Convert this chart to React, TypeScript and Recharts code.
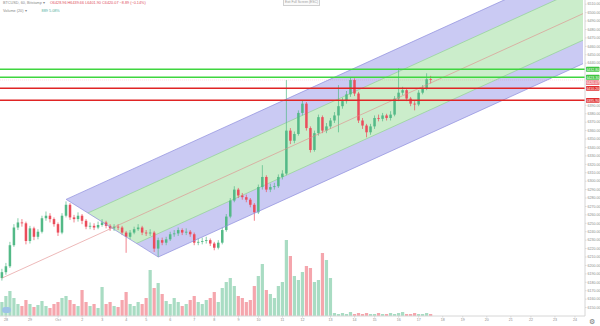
import React from 'react';
import { ComposedChart, Bar, Area, XAxis, YAxis, ReferenceLine } from 'recharts';

// hourly candles
const FIRST_OPEN = 6185;
const CLOSE = [
  6192, 6199, 6224, 6245, 6251, 6250, 6229, 6244, 6234, 6240,
  6256, 6259, 6255, 6249, 6239, 6259, 6272, 6257, 6255, 6259,
  6253, 6246, 6247, 6245, 6248, 6251, 6247, 6244, 6246, 6245,
  6239, 6234, 6239, 6243, 6245, 6239, 6238, 6239, 6220, 6230,
  6227, 6231, 6237, 6238, 6242, 6239, 6240, 6237, 6227, 6228,
  6229, 6230, 6226, 6221, 6227, 6242, 6258, 6277, 6290, 6283,
  6281, 6278, 6272, 6263, 6293, 6305, 6290, 6293, 6294, 6305,
  6309, 6360, 6348, 6356, 6381, 6392, 6363, 6337, 6357, 6376,
  6360, 6365, 6372, 6378, 6389, 6395, 6403, 6420, 6404, 6372,
  6366, 6358, 6365, 6375, 6374, 6378, 6375, 6379, 6398, 6405,
  6408, 6398, 6392, 6391, 6405, 6410, 6421, 6420.07,
];
const HIGH = [
  6196, 6203, 6228, 6249, 6256, 6255, 6252, 6247, 6246, 6243,
  6259, 6264, 6262, 6257, 6251, 6262, 6276, 6274, 6260, 6263,
  6261, 6255, 6251, 6250, 6252, 6255, 6253, 6249, 6249, 6249,
  6247, 6241, 6242, 6246, 6249, 6247, 6242, 6243, 6241, 6233,
  6233, 6234, 6240, 6242, 6245, 6244, 6244, 6242, 6239, 6232,
  6233, 6234, 6232, 6228, 6230, 6245, 6261, 6280, 6294, 6292,
  6286, 6284, 6280, 6274, 6296, 6319, 6307, 6297, 6298, 6308,
  6313, 6420, 6363, 6359, 6384, 6396, 6394, 6365, 6360, 6379,
  6378, 6369, 6375, 6382, 6414, 6399, 6407, 6423, 6422, 6406,
  6375, 6368, 6368, 6378, 6379, 6381, 6380, 6383, 6401, 6434,
  6412, 6410, 6400, 6395, 6408, 6414, 6428, 6425,
];
const LOW = [
  6182, 6189, 6197, 6222, 6242, 6246, 6225, 6226, 6230, 6231,
  6238, 6253, 6251, 6246, 6235, 6237, 6257, 6254, 6251, 6252,
  6249, 6243, 6243, 6242, 6243, 6246, 6244, 6241, 6241, 6242,
  6236, 6215, 6231, 6237, 6241, 6236, 6235, 6235, 6216, 6210,
  6224, 6224, 6229, 6234, 6235, 6236, 6236, 6234, 6224, 6224,
  6225, 6226, 6223, 6218, 6219, 6225, 6240, 6256, 6275, 6280,
  6278, 6275, 6269, 6253, 6261, 6290, 6287, 6287, 6290, 6292,
  6302, 6307, 6344, 6345, 6354, 6378, 6360, 6334, 6335, 6354,
  6357, 6357, 6362, 6369, 6358, 6386, 6392, 6400, 6401, 6369,
  6362, 6352, 6355, 6362, 6371, 6371, 6372, 6372, 6377, 6395,
  6402, 6395, 6389, 6384, 6389, 6403, 6408, 6416,
];
const VOLUME = [
  140, 200, 250, 180, 120, 100, 160, 120, 90, 110,
  150, 100, 80, 120, 140, 180, 200, 160, 120, 100,
  260, 140, 100, 120, 80, 290, 120, 140, 100, 90,
  160, 240, 120, 100, 140, 120, 180, 460, 280, 330,
  220, 150, 120, 180, 140, 100, 120, 160, 200, 140,
  120, 160, 180, 240, 140, 280, 340, 380, 300, 200,
  180, 140, 160, 300, 400, 520, 260, 220, 180, 300,
  340, 760, 600, 400, 360, 440, 500, 480, 340, 360,
  630, 560, 380, 30, 20, 30, 20, 40, 20, 30,
  20, 30, 20, 20, 30, 20, 20, 30, 20, 30,
  40, 20, 20, 30, 20, 20, 30, 20,
];
const SLOTS = 146;

// fib channel outline, [slot, price]
const BLUE_TOP = [[16, 6278.4], [39, 6328.2], [145, 6557.6]];
const BLUE_BOTTOM = [[16, 6278.4], [39, 6210.0], [145, 6439.4]];
const GREEN_TOP = [[21, 6261.3], [145, 6529.7]];
const GREEN_BOTTOM = [[21, 6198.9], [145, 6467.3]];
const CUT_TOP = [[16, 6278.4], [39, 6210.0]];
const CUT_BOTTOM = [[16, 6190.0], [39, 6120.0]];
const MID_LINE = [[0, 6185.0], [145, 6498.8]];

// horizontal levels
const GREEN_LEVELS = [6432.8, 6423.3];
const RED_LEVELS = [6410.2, 6395.9];
const LAST_PRICE = 6420.07;

// ticks hidden behind the level tags are left out
const PRICE_TICKS = [
  6150, 6160, 6170, 6180, 6190, 6200, 6210, 6220, 6230, 6240, 6250, 6260, 6270,
  6280, 6290, 6300, 6310, 6320, 6330, 6340, 6350, 6360, 6370, 6380, 6390,
  6440, 6450, 6460, 6470, 6480, 6490, 6500, 6510,
];
const TIME_TICKS = [1, 7, 14, 20, 25, 31, 36, 42, 48, 53, 59, 64, 70, 75, 82, 88, 93, 99, 104, 110, 115, 121, 127, 132, 138, 143];
const TIME_LABELS = [
  '28', '29', 'Oct', '2', '3', '4', '5', '6', '7', '8', '9', '10', '11',
  '12', '13', '14', '15', '16', '17', '18', '19', '20', '21', '22', '23', '24',
];

const UP = '#53b987';
const DOWN = '#eb4d5c';
const CHANNEL_EDGE = '#8c8cdd';

const data = Array.from({ length: SLOTS }, (_, i) => {
  const has = i < CLOSE.length;
  const row: any = {
    i,
    open: has ? (i === 0 ? FIRST_OPEN : CLOSE[i - 1]) : null,
    close: has ? CLOSE[i] : null,
    high: has ? HIGH[i] : null,
    low: has ? LOW[i] : null,
    volume: has ? VOLUME[i] : null,
  };
  return row;
});

function put(key: string, pts: number[][]) {
  pts.forEach(([i, p]) => {
    data[i][key] = p;
  });
}
put('bt', BLUE_TOP);
put('bb', BLUE_BOTTOM);
put('gt', GREEN_TOP);
put('gb', GREEN_BOTTOM);
put('ct', CUT_TOP);
put('cb', CUT_BOTTOM);

const range = (lo: string, hi: string) => (d: any) =>
  d[lo] == null || d[hi] == null ? null : [d[lo], d[hi]];

const seg = (a: number[], b: number[]) => [
  { x: a[0], y: a[1] },
  { x: b[0], y: b[1] },
];

function Candle(props: any) {
  const { x, y, width, height, payload } = props;
  if (!payload || payload.high == null || height == null) return null;
  const { open, close, high, low } = payload;
  const top = Math.min(y, y + height);
  const bot = Math.max(y, y + height);
  const k = (bot - top) / (high - low);
  const cx = x + width / 2;
  const yo = top + (high - open) * k;
  const yc = top + (high - close) * k;
  const color = close >= open ? UP : DOWN;
  const bTop = Math.min(yo, yc);
  const bH = Math.max(Math.abs(yc - yo), 0.8);
  return (
    <g>
      <line x1={cx} x2={cx} y1={top} y2={bot} stroke={color} strokeWidth={0.7} />
      <rect x={cx - 1.25} y={bTop} width={2.5} height={bH} fill={color} />
    </g>
  );
}

function VolumeBar(props: any) {
  const { x, y, width, height, payload } = props;
  if (!payload || payload.volume == null || !height) return null;
  const up = payload.close >= payload.open;
  return (
    <rect
      x={x + 0.3}
      y={y}
      width={Math.max(width - 0.6, 0.5)}
      height={height}
      fill={up ? 'rgba(83,185,135,0.5)' : 'rgba(235,77,92,0.5)'}
    />
  );
}

function PriceTag({ viewBox, text, color, dy = 0 }: any) {
  if (!viewBox) return null;
  const x = viewBox.x + viewBox.width + 1;
  const y = viewBox.y + dy;
  return (
    <g>
      <rect x={x} y={y - 2.4} width={13.5} height={4.8} rx={0.6} fill={color} />
      <text x={x + 6.75} y={y + 1.25} fontSize={3.5} fill="#ffffff" textAnchor="middle" fontFamily="Liberation Sans, Arial, sans-serif">
        {text}
      </text>
    </g>
  );
}

const tinyFont = 'Liberation Sans, Arial, sans-serif';

export default function App() {
  return (
    <div style={{ position: 'absolute', left: 0, top: 0, width: 600, height: 326, background: '#fff', fontFamily: tinyFont }}>
      <ComposedChart
        width={600}
        height={326}
        data={data}
        margin={{ top: 0, right: 0, bottom: 0, left: 0 }}
        barSize={3.8}
        barGap={-3.8}
      >
        <XAxis
          dataKey="i"
          ticks={TIME_TICKS}
          interval={0}
          height={10}
          tickFormatter={(v: number) => TIME_LABELS[TIME_TICKS.indexOf(v)] ?? ''}
          tick={{ fontSize: 3.6, fill: '#8a8a8a', fontFamily: tinyFont }}
          tickSize={1.5}
          tickMargin={1}
          stroke="#d6d6d6"
        />
        <YAxis
          yAxisId="p"
          orientation="right"
          width={15}
          domain={[6140, 6515]}
          allowDataOverflow
          ticks={PRICE_TICKS}
          interval={0}
          tickFormatter={(v: number) => v.toFixed(2)}
          tick={{ fontSize: 3.6, fill: '#8a8a8a', fontFamily: tinyFont }}
          tickSize={1.5}
          tickMargin={1}
          stroke="#d6d6d6"
        />
        <YAxis yAxisId="v" hide domain={[0, 3160]} allowDataOverflow />

        <Area yAxisId="p" dataKey={range('bb', 'bt')} connectNulls type="linear" fill="#cacaf3" fillOpacity={1} stroke="none" dot={false} activeDot={false} isAnimationActive={false} />
        <Area yAxisId="p" dataKey={range('gb', 'gt')} connectNulls type="linear" fill="#cbedcb" fillOpacity={1} stroke="#86d086" strokeWidth={0.6} dot={false} activeDot={false} isAnimationActive={false} />
        <Area yAxisId="p" dataKey={range('cb', 'ct')} connectNulls type="linear" fill="#ffffff" fillOpacity={1} stroke="none" dot={false} activeDot={false} isAnimationActive={false} />

        <ReferenceLine yAxisId="p" segment={seg(BLUE_TOP[0], BLUE_TOP[2])} ifOverflow="hidden" stroke={CHANNEL_EDGE} strokeWidth={0.7} />
        <ReferenceLine yAxisId="p" segment={seg(BLUE_BOTTOM[0], BLUE_BOTTOM[1])} ifOverflow="hidden" stroke={CHANNEL_EDGE} strokeWidth={0.7} />
        <ReferenceLine yAxisId="p" segment={seg(BLUE_BOTTOM[1], BLUE_BOTTOM[2])} ifOverflow="hidden" stroke={CHANNEL_EDGE} strokeWidth={0.7} />
        <ReferenceLine yAxisId="p" segment={seg(MID_LINE[0], MID_LINE[1])} ifOverflow="hidden" stroke="#e08a8a" strokeWidth={0.6} />

        <Bar yAxisId="v" dataKey="volume" shape={<VolumeBar />} isAnimationActive={false} />
        <Bar yAxisId="p" dataKey={range('low', 'high')} shape={<Candle />} isAnimationActive={false} />

        {GREEN_LEVELS.map((p) => (
          <ReferenceLine key={'g' + p} yAxisId="p" y={p} stroke="#3fd63f" strokeWidth={1.5}
            label={(lp: any) => <PriceTag viewBox={lp.viewBox} text={p.toFixed(2)} color="#3fc43f" />} />
        ))}
        {RED_LEVELS.map((p) => (
          <ReferenceLine key={'r' + p} yAxisId="p" y={p} stroke="#e02424" strokeWidth={1.5}
            label={(lp: any) => <PriceTag viewBox={lp.viewBox} text={p.toFixed(2)} color="#e03030" />} />
        ))}
        <ReferenceLine yAxisId="p" y={LAST_PRICE} stroke="rgba(235,77,92,0.35)" strokeWidth={0.5} strokeDasharray="1 1"
          label={(lp: any) => <PriceTag viewBox={lp.viewBox} text={LAST_PRICE.toFixed(2)} color="#ef7b85" dy={2.6} />} />
      </ComposedChart>

      <div style={{ position: 'absolute', left: 3, top: 1, fontSize: 3.8, lineHeight: '5px', color: '#8a8a8a', whiteSpace: 'nowrap' }}>
        BTCUSD, 60, Bitstamp ▾
        <span style={{ marginLeft: 5, color: '#e0505e' }}>
          O6428.96 H6439.66 L6401.90 C6420.07 −8.89 (−0.14%)
        </span>
      </div>
      <div style={{ position: 'absolute', left: 3, top: 9, fontSize: 3.8, lineHeight: '5px', color: '#8a8a8a', whiteSpace: 'nowrap' }}>
        Volume (20) ▾ <span style={{ color: '#53b0a0', marginLeft: 14 }}>889 5.08%</span>
      </div>
      <div style={{ position: 'absolute', left: 283, top: 0, width: 35, height: 5, border: '0.5px solid #d0d0d0', borderTop: 'none', fontSize: 3.3, lineHeight: '5px', color: '#9a9a9a', textAlign: 'center', whiteSpace: 'nowrap', background: '#fafafa' }}>
        Exit Full Screen (ESC)
      </div>
      <div style={{ position: 'absolute', left: 2, top: 307, width: 9, height: 6, borderRadius: 3, background: '#9ec3e6' }} />
      <div style={{ position: 'absolute', left: 589, top: 318, fontSize: 7, lineHeight: '8px', color: '#777' }}>⚙</div>
    </div>
  );
}
